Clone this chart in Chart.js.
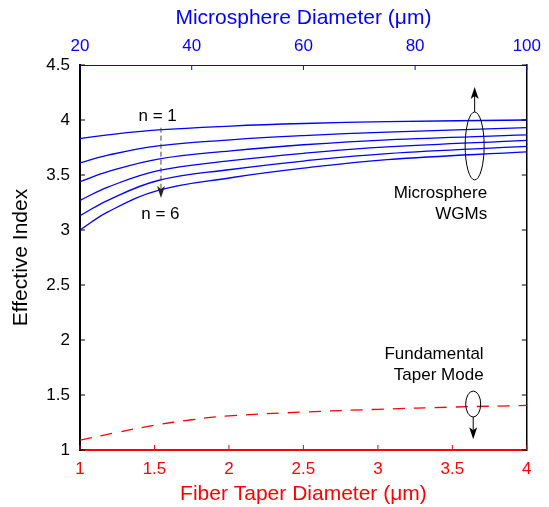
<!DOCTYPE html>
<html>
<head>
<meta charset="utf-8">
<script src="https://cdn.jsdelivr.net/npm/chart.js@4/dist/chart.umd.min.js"></script>
<style>
    body { margin: 0; background: #fff; }
    canvas { display: block; }
</style>
</head>
<body>
<canvas id="chart" width="549" height="507"></canvas>
<script>
// microsphere diameter (top axis, µm) and effective index for WGMs n = 1..6
const sphereDiameter = [20, 25, 34, 47, 60, 75, 100];
const wgmN1 = [3.83, 3.865, 3.91, 3.945, 3.968, 3.985, 4.00];
const wgmN2 = [3.61, 3.68, 3.765, 3.82, 3.858, 3.89, 3.93];
const wgmN3 = [3.44, 3.53, 3.645, 3.72, 3.775, 3.82, 3.865];
const wgmN4 = [3.27, 3.39, 3.54, 3.63, 3.697, 3.755, 3.815];
const wgmN5 = [3.13, 3.27, 3.45, 3.55, 3.627, 3.695, 3.76];
const wgmN6 = [3.00, 3.165, 3.36, 3.475, 3.562, 3.64, 3.71];
const wgmSeries = [wgmN1, wgmN2, wgmN3, wgmN4, wgmN5, wgmN6];

// fiber taper diameter (bottom axis, µm) and effective index of fundamental mode
const taperDiameter = [1, 1.25, 1.5, 1.75, 2, 2.5, 3, 3.5, 4];
const taperIndex = [1.09, 1.16, 1.225, 1.275, 1.31, 1.345, 1.37, 1.39, 1.405];

const FONT = "'Liberation Sans', Arial, Helvetica, sans-serif";

const toPoints = (xs, ys) => xs.map((x, i) => ({ x: x, y: ys[i] }));

const datasets = wgmSeries.map((ys, i) => ({
    label: 'n = ' + (i + 1),
    data: toPoints(sphereDiameter, ys),
    xAxisID: 'x2',
    yAxisID: 'y',
    borderColor: '#0000ff',
    borderWidth: 1.3,
    pointRadius: 0,
    fill: false,
    tension: 0.4
}));
datasets.push({
    label: 'Fundamental Taper Mode',
    data: toPoints(taperDiameter, taperIndex),
    xAxisID: 'x',
    yAxisID: 'y',
    borderColor: '#ff0000',
    borderWidth: 1.3,
    borderDash: [12, 9],
    pointRadius: 0,
    fill: false,
    tension: 0.4
});

// short tick marks pointing into the plot, like the original figure
const inwardTicks = {
    id: 'inwardTicks',
    afterDraw(chart) {
        const ctx = chart.ctx;
        const area = chart.chartArea;
        const len = 5;
        ctx.save();
        ctx.lineWidth = 1;
        const s = chart.scales;
        const drawTicks = (scale, color, fn) => {
            ctx.strokeStyle = color;
            scale.ticks.forEach(t => {
                const p = scale.getPixelForValue(t.value);
                ctx.beginPath();
                fn(p);
                ctx.stroke();
            });
        };
        drawTicks(s.y, '#000', p => { ctx.moveTo(area.left, p); ctx.lineTo(area.left + len, p); });
        drawTicks(s.y, '#000', p => { ctx.moveTo(area.right, p); ctx.lineTo(area.right - len, p); });
        drawTicks(s.x, '#ff0000', p => { ctx.moveTo(p, area.bottom); ctx.lineTo(p, area.bottom - len); });
        drawTicks(s.x2, '#0000ff', p => { ctx.moveTo(p, area.top); ctx.lineTo(p, area.top + len); });
        ctx.restore();
    }
};

const arrowHead = (ctx, x, y, dir) => {
    // dir: -1 points up, 1 points down
    ctx.beginPath();
    ctx.moveTo(x, y);
    ctx.lineTo(x - 4, y - dir * 12);
    ctx.lineTo(x, y - dir * 9);
    ctx.lineTo(x + 4, y - dir * 12);
    ctx.closePath();
    ctx.fill();
};

// text labels, ellipses and arrows placed in data coordinates
const annotations = {
    id: 'annotations',
    afterDraw(chart) {
        const ctx = chart.ctx;
        const { x, x2, y } = chart.scales;
        ctx.save();
        ctx.fillStyle = '#000';
        ctx.strokeStyle = '#000';
        ctx.font = '17px ' + FONT;
        ctx.textBaseline = 'middle';

        // n = 1 ... n = 6 labels with dashed arrow
        ctx.textAlign = 'center';
        ctx.fillText('n = 1', x2.getPixelForValue(33.9), y.getPixelForValue(4.03));
        ctx.fillText('n = 6', x2.getPixelForValue(34.4), y.getPixelForValue(3.14));
        const ax = x2.getPixelForValue(34.5);
        const aTop = y.getPixelForValue(3.93);
        const aTip = y.getPixelForValue(3.29);
        ctx.strokeStyle = '#444';
        ctx.lineWidth = 1;
        ctx.setLineDash([5, 3]);
        ctx.beginPath();
        ctx.moveTo(ax, aTop);
        ctx.lineTo(ax, aTip - 6);
        ctx.stroke();
        ctx.setLineDash([]);
        ctx.fillStyle = '#222';
        arrowHead(ctx, ax, aTip, 1);

        // microsphere WGM ellipse with upward arrow
        ctx.fillStyle = '#000';
        ctx.strokeStyle = '#000';
        const ex = x2.getPixelForValue(90.66);
        const ey = y.getPixelForValue(3.764);
        const ery = y.getPixelForValue(3.764) - y.getPixelForValue(4.073);
        ctx.beginPath();
        ctx.ellipse(ex, ey, 9.5, ery, 0, 0, Math.PI * 2);
        ctx.stroke();
        const upTip = y.getPixelForValue(4.30);
        ctx.beginPath();
        ctx.moveTo(ex, ey - ery);
        ctx.lineTo(ex, upTip + 6);
        ctx.stroke();
        arrowHead(ctx, ex, upTip, -1);
        ctx.textAlign = 'right';
        ctx.fillText('Microsphere', x2.getPixelForValue(92.9), y.getPixelForValue(3.336));
        ctx.fillText('WGMs', x2.getPixelForValue(92.9), y.getPixelForValue(3.145));

        // fundamental taper mode ellipse with downward arrow
        const fx = x.getPixelForValue(3.64);
        const fy = y.getPixelForValue(1.418);
        const fry = y.getPixelForValue(1.418) - y.getPixelForValue(1.536);
        ctx.beginPath();
        ctx.ellipse(fx, fy, 7.5, fry, 0, 0, Math.PI * 2);
        ctx.stroke();
        const downTip = y.getPixelForValue(1.097);
        ctx.beginPath();
        ctx.moveTo(fx, fy + fry);
        ctx.lineTo(fx, downTip - 6);
        ctx.stroke();
        arrowHead(ctx, fx, downTip, 1);
        ctx.fillText('Fundamental', x.getPixelForValue(3.71), y.getPixelForValue(1.873));
        ctx.fillText('Taper Mode', x.getPixelForValue(3.71), y.getPixelForValue(1.675));
        ctx.restore();
    }
};

const tickFont = { family: FONT, size: 17 };
const titleFont = { family: FONT, size: 21 };
const plainNumber = value => String(value);

const config = {
    type: 'line',
    data: { datasets: datasets },
    options: {
        responsive: false,
        animation: false,
        layout: { padding: 0 },
        plugins: { legend: { display: false }, tooltip: { enabled: false } },
        scales: {
            x: {
                type: 'linear',
                position: 'bottom',
                min: 1,
                max: 4,
                ticks: { stepSize: 0.5, color: '#ff0000', font: tickFont, padding: 9, maxRotation: 0, callback: plainNumber },
                grid: { display: false, drawTicks: false },
                border: { color: '#ff0000', width: 2 },
                title: { display: true, text: 'Fiber Taper Diameter (μm)', color: '#ff0000', font: titleFont, padding: 0 },
                afterFit: s => { s.height = 57; }
            },
            x2: {
                type: 'linear',
                position: 'top',
                min: 20,
                max: 100,
                ticks: { stepSize: 20, color: '#0000ff', font: tickFont, padding: 8, maxRotation: 0, callback: plainNumber },
                grid: { display: false, drawTicks: false },
                border: { color: '#0000ff', width: 1 },
                title: { display: true, text: 'Microsphere Diameter (μm)', color: '#0000ff', font: titleFont, padding: 6 },
                afterFit: s => { s.height = 65; }
            },
            y: {
                type: 'linear',
                position: 'left',
                min: 1,
                max: 4.5,
                ticks: { stepSize: 0.5, color: '#000', font: tickFont, padding: 10, callback: plainNumber },
                grid: { display: false, drawTicks: false },
                border: { color: '#000', width: 2 },
                title: { display: true, text: 'Effective Index', color: '#000', font: titleFont, padding: 9 },
                afterFit: s => { s.width = 80; }
            },
            y2: {
                type: 'linear',
                position: 'right',
                min: 1,
                max: 4.5,
                ticks: { display: false },
                grid: { display: false, drawTicks: false },
                border: { color: '#000', width: 1.5 },
                afterFit: s => { s.width = 21; }
            }
        }
    },
    plugins: [inwardTicks, annotations]
};

new Chart(document.getElementById('chart'), config);
</script>
</body>
</html>
